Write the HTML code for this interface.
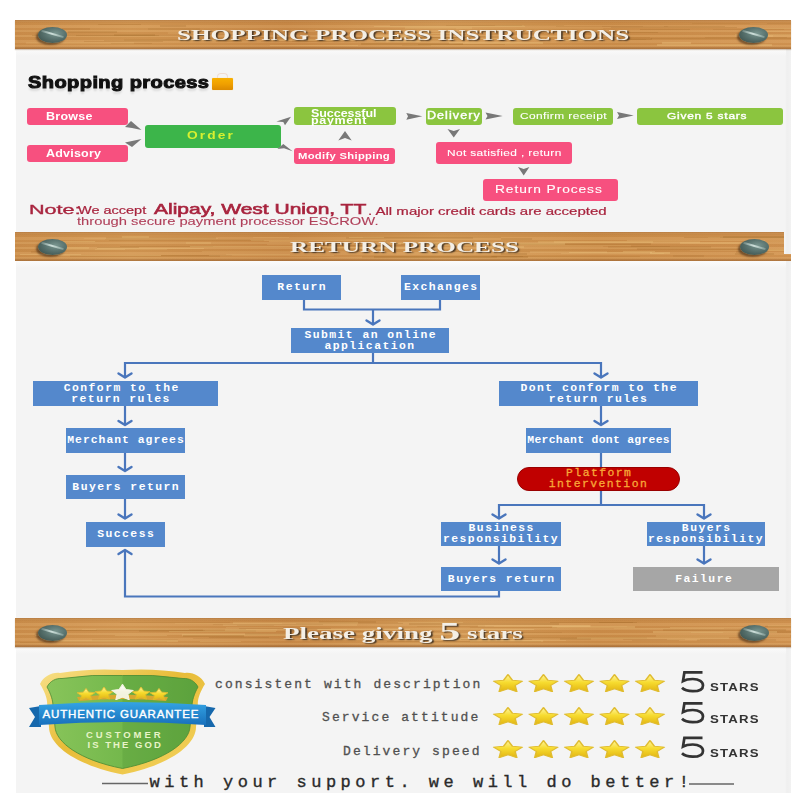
<!DOCTYPE html>
<html><head><meta charset="utf-8">
<style>
*{margin:0;padding:0;box-sizing:border-box}
html,body{width:800px;height:797px;overflow:hidden;background:#fff}
body{position:relative;font-family:"Liberation Sans",sans-serif}
.a{position:absolute}
.panel{left:16px;top:20px;width:775px;height:773px;background:linear-gradient(90deg,#f4f4f4 0,#f4f4f4 769px,#efefef 771px,#f2f2f2 775px)}
.strip{left:16px;width:770px;height:7px;background:linear-gradient(#fbfbfb,#f4f4f4)}
.wood{left:15px;width:776px;height:29px;box-shadow:0 1px 1px rgba(140,100,60,.35);
 background:
  linear-gradient(180deg,rgba(150,90,40,.45) 0,rgba(150,90,40,0) 3px,rgba(255,220,160,0) 26px,rgba(130,80,40,.45) 29px),
  repeating-linear-gradient(180deg,rgba(255,225,170,.12) 0 2px,rgba(160,100,40,.10) 2px 5px,rgba(255,220,170,.10) 5px 8px,rgba(170,105,45,.08) 8px 10px,rgba(255,230,180,.10) 10px 12px,rgba(160,95,40,.09) 12px 15px),
  linear-gradient(90deg,#cc8f4c 0%,#d39854 15%,#c98a48 35%,#d59c58 55%,#cc8e4a 75%,#d19452 100%);}
.grain{position:absolute;left:15px;width:776px;height:29px;overflow:hidden;pointer-events:none}
.grain i{position:absolute;display:block}
.screw{width:29px;height:16px;border-radius:50%;
 background:radial-gradient(ellipse at 60% 40%,#7a9690 0%,#5a7470 40%,#435a56 75%,#2e3e3c 100%);
 box-shadow:-2px 2px 2px rgba(50,30,15,.55)}
.screw:after{content:"";position:absolute;left:3px;top:6.5px;width:23px;height:1.6px;background:linear-gradient(90deg,rgba(200,225,215,.2),rgba(230,245,240,.8) 45%,rgba(200,225,215,.3));transform:rotate(16deg)}
.title{font-family:"Liberation Serif",serif;font-weight:bold;color:#f4efe6;font-size:15px;letter-spacing:0px;transform:scaleX(1.68);transform-origin:0 0;
 text-shadow:1px 1px 1px rgba(50,40,30,.85);white-space:nowrap}
.pb{border-radius:3px;color:#fff;font-size:10px;text-align:center;white-space:nowrap;display:flex;align-items:center;justify-content:center;line-height:9px}
.bx{border-radius:3px}
.pt{color:#fff;font-weight:bold;white-space:nowrap;transform:scaleX(1.25);transform-origin:0 0}
.bb{background:#5488cc;color:#fff;font-family:"Liberation Mono",monospace;font-weight:bold;font-size:11.4px;letter-spacing:1.45px;text-indent:1.45px;text-align:center;display:flex;align-items:center;justify-content:center;line-height:11px;white-space:nowrap}
.note{color:#a8243e;white-space:nowrap}
.mono{font-family:"Liberation Mono",monospace;white-space:nowrap}
</style></head><body>
<div class="a panel"></div>

<div class="a strip" style="top:49px"></div>
<div class="a strip" style="top:261px"></div>
<div class="a strip" style="top:647px"></div>
<!-- Section 1 -->
<div class="a wood" style="top:20px"></div>
<div class="grain" style="top:20px"><i style="left:245px;top:17.3px;width:41px;height:1px;background:rgba(150,95,30,0.11)"></i><i style="left:441px;top:7.7px;width:147px;height:1px;background:rgba(245,210,140,0.13)"></i><i style="left:69px;top:21.2px;width:79px;height:1px;background:rgba(150,95,30,0.18)"></i><i style="left:441px;top:15.9px;width:29px;height:1px;background:rgba(150,95,30,0.11)"></i><i style="left:649px;top:6.2px;width:61px;height:1px;background:rgba(150,95,30,0.17)"></i><i style="left:516px;top:15.6px;width:34px;height:1px;background:rgba(245,210,140,0.21)"></i><i style="left:47px;top:7.5px;width:28px;height:2px;background:rgba(150,95,30,0.16)"></i><i style="left:698px;top:8.5px;width:71px;height:1px;background:rgba(150,95,30,0.13)"></i><i style="left:434px;top:22.3px;width:94px;height:2px;background:rgba(245,210,140,0.28)"></i><i style="left:89px;top:19.7px;width:79px;height:1px;background:rgba(150,95,30,0.15)"></i><i style="left:727px;top:15.3px;width:31px;height:1.5px;background:rgba(245,210,140,0.18)"></i><i style="left:375px;top:4.5px;width:132px;height:1px;background:rgba(150,95,30,0.16)"></i><i style="left:502px;top:18.4px;width:28px;height:2px;background:rgba(245,210,140,0.18)"></i><i style="left:506px;top:13.2px;width:23px;height:1px;background:rgba(150,95,30,0.16)"></i><i style="left:165px;top:19.2px;width:60px;height:2px;background:rgba(245,210,140,0.26)"></i><i style="left:61px;top:15.1px;width:83px;height:1px;background:rgba(150,95,30,0.20)"></i><i style="left:210px;top:10.9px;width:78px;height:2px;background:rgba(150,95,30,0.12)"></i><i style="left:133px;top:8.1px;width:52px;height:2px;background:rgba(150,95,30,0.12)"></i><i style="left:213px;top:14.8px;width:40px;height:1.5px;background:rgba(150,95,30,0.18)"></i><i style="left:390px;top:17.9px;width:106px;height:1px;background:rgba(245,210,140,0.26)"></i><i style="left:720px;top:15.3px;width:56px;height:2px;background:rgba(245,210,140,0.14)"></i><i style="left:480px;top:4.5px;width:29px;height:1px;background:rgba(245,210,140,0.14)"></i><i style="left:454px;top:15.5px;width:34px;height:1px;background:rgba(150,95,30,0.17)"></i><i style="left:53px;top:11.3px;width:49px;height:1.5px;background:rgba(150,95,30,0.17)"></i><i style="left:358px;top:13.7px;width:36px;height:2px;background:rgba(245,210,140,0.17)"></i><i style="left:109px;top:19.3px;width:125px;height:2px;background:rgba(150,95,30,0.12)"></i><i style="left:17px;top:14.6px;width:153px;height:1px;background:rgba(150,95,30,0.21)"></i><i style="left:573px;top:17.1px;width:62px;height:1px;background:rgba(150,95,30,0.13)"></i><i style="left:277px;top:20.0px;width:43px;height:1.5px;background:rgba(150,95,30,0.17)"></i><i style="left:596px;top:7.3px;width:126px;height:1px;background:rgba(150,95,30,0.19)"></i><i style="left:171px;top:10.8px;width:92px;height:1px;background:rgba(150,95,30,0.19)"></i><i style="left:357px;top:16.3px;width:47px;height:1.5px;background:rgba(245,210,140,0.27)"></i><i style="left:747px;top:11.0px;width:29px;height:1px;background:rgba(245,210,140,0.20)"></i><i style="left:255px;top:24.7px;width:88px;height:1px;background:rgba(245,210,140,0.22)"></i><i style="left:605px;top:17.5px;width:32px;height:2px;background:rgba(150,95,30,0.19)"></i><i style="left:361px;top:20.4px;width:45px;height:1.5px;background:rgba(245,210,140,0.27)"></i><i style="left:546px;top:19.4px;width:85px;height:1px;background:rgba(150,95,30,0.12)"></i><i style="left:96px;top:22.9px;width:41px;height:1px;background:rgba(150,95,30,0.17)"></i><i style="left:359px;top:6.4px;width:151px;height:1px;background:rgba(245,210,140,0.25)"></i><i style="left:549px;top:19.5px;width:34px;height:1px;background:rgba(245,210,140,0.26)"></i><i style="left:625px;top:8.5px;width:50px;height:1.5px;background:rgba(150,95,30,0.19)"></i><i style="left:246px;top:21.4px;width:96px;height:1px;background:rgba(150,95,30,0.14)"></i><i style="left:346px;top:22.9px;width:102px;height:2px;background:rgba(150,95,30,0.21)"></i><i style="left:99px;top:14.2px;width:41px;height:2px;background:rgba(150,95,30,0.17)"></i><i style="left:587px;top:6.1px;width:41px;height:1px;background:rgba(150,95,30,0.14)"></i><i style="left:392px;top:20.3px;width:98px;height:1px;background:rgba(150,95,30,0.11)"></i><i style="left:145px;top:5.2px;width:26px;height:2px;background:rgba(150,95,30,0.19)"></i><i style="left:690px;top:16.5px;width:82px;height:1px;background:rgba(150,95,30,0.15)"></i><i style="left:403px;top:23.7px;width:87px;height:1.5px;background:rgba(150,95,30,0.21)"></i><i style="left:153px;top:12.2px;width:83px;height:2px;background:rgba(245,210,140,0.13)"></i><i style="left:182px;top:17.7px;width:30px;height:1px;background:rgba(150,95,30,0.12)"></i><i style="left:541px;top:6.1px;width:112px;height:1px;background:rgba(150,95,30,0.13)"></i><i style="left:720px;top:13.7px;width:56px;height:1px;background:rgba(245,210,140,0.19)"></i><i style="left:390px;top:7.3px;width:67px;height:1.5px;background:rgba(245,210,140,0.18)"></i><i style="left:256px;top:18.5px;width:84px;height:2px;background:rgba(245,210,140,0.22)"></i><i style="left:387px;top:24.7px;width:29px;height:1px;background:rgba(150,95,30,0.11)"></i><i style="left:201px;top:20.1px;width:26px;height:1.5px;background:rgba(150,95,30,0.20)"></i><i style="left:642px;top:23.8px;width:115px;height:2px;background:rgba(245,210,140,0.27)"></i><i style="left:431px;top:5.0px;width:118px;height:1px;background:rgba(150,95,30,0.12)"></i><i style="left:677px;top:3.4px;width:58px;height:1px;background:rgba(150,95,30,0.11)"></i><i style="left:647px;top:22.0px;width:29px;height:2px;background:rgba(245,210,140,0.28)"></i><i style="left:316px;top:16.7px;width:148px;height:1px;background:rgba(150,95,30,0.13)"></i><i style="left:83px;top:4.1px;width:43px;height:1px;background:rgba(150,95,30,0.18)"></i><i style="left:402px;top:12.8px;width:49px;height:1px;background:rgba(245,210,140,0.25)"></i><i style="left:752px;top:3.4px;width:24px;height:1px;background:rgba(150,95,30,0.13)"></i><i style="left:338px;top:17.3px;width:112px;height:2px;background:rgba(150,95,30,0.21)"></i><i style="left:734px;top:7.7px;width:42px;height:1px;background:rgba(245,210,140,0.25)"></i><i style="left:534px;top:11.9px;width:109px;height:1.5px;background:rgba(150,95,30,0.20)"></i><i style="left:11px;top:22.4px;width:108px;height:2px;background:rgba(245,210,140,0.13)"></i><i style="left:636px;top:17.8px;width:140px;height:1.5px;background:rgba(150,95,30,0.18)"></i></div>
<div class="a screw" style="left:37.5px;top:26.5px"></div>
<div class="a screw" style="left:739px;top:26.5px"></div>
<div class="a title" style="left:177px;top:27px">SHOPPING PROCESS INSTRUCTIONS</div>

<div class="a" style="left:28px;top:73px;font-size:16.7px;font-weight:bold;color:#111;-webkit-text-stroke:1px #111;letter-spacing:0.35px;white-space:nowrap;transform:scaleX(1.2);transform-origin:0 0;text-shadow:0 3px 2px rgba(0,0,0,.12)">Shopping process</div>
<div class="a" style="left:211.5px;top:77.5px;width:21.5px;height:12.3px;background:linear-gradient(#f8b000,#f0a000 50%,#dc8a00);border-radius:1px;box-shadow:0 0 1px #f8d070"></div>
<div class="a" style="left:217px;top:73px;width:11px;height:5px;border:1px solid #f0dcd0;border-bottom:none;border-radius:4px 4px 0 0"></div>

<div class="a bx" style="left:27px;top:108px;width:101px;height:17px;background:#f7507f"></div>
<div class="a bx" style="left:27px;top:145px;width:101px;height:17px;background:#f7507f"></div>
<div class="a bx" style="left:145px;top:124.5px;width:136px;height:23px;background:#3cb54a"></div>
<div class="a bx" style="left:294px;top:107px;width:102px;height:18px;background:#8bc53f"></div>
<div class="a bx" style="left:294px;top:148px;width:101px;height:16px;background:#f7507f"></div>
<div class="a bx" style="left:425.5px;top:107.5px;width:56px;height:17.5px;background:#8bc53f"></div>
<div class="a bx" style="left:512.5px;top:107.5px;width:100.5px;height:17.5px;background:#8bc53f"></div>
<div class="a bx" style="left:637px;top:107.5px;width:145.5px;height:17.5px;background:#8bc53f"></div>
<div class="a bx" style="left:436px;top:142px;width:136px;height:22px;background:#f7507f"></div>
<div class="a bx" style="left:482.5px;top:178.5px;width:135px;height:22px;background:#f7507f"></div>
<div class="a pt" id="p0" style="left:45.5px;top:112.22px;font-size:10px;line-height:10px;letter-spacing:0.208px">Browse</div>
<div class="a pt" id="p1" style="left:46.00px;top:148.66px;font-size:10px;line-height:10px;letter-spacing:0.173px">Advisory</div>
<div class="a pt" id="p2" style="left:187.00px;top:130.26px;font-size:11px;line-height:11px;letter-spacing:1.680px;color:#d8f030">Order</div>
<div class="a pt" id="p3" style="left:311.00px;top:108.9px;font-size:10px;line-height:10px;letter-spacing:-0.043px">Successful</div>
<div class="a pt" id="p4" style="left:311.00px;top:116px;font-size:10px;line-height:10px;letter-spacing:0.533px">payment</div>
<div class="a pt" id="p5" style="left:297.60px;top:151.82px;font-size:9px;line-height:9px;letter-spacing:0.241px">Modify Shipping</div>
<div class="a pt" id="p6" style="left:427.25px;top:110.92px;font-size:10px;line-height:10px;letter-spacing:0.858px;font-weight:normal;-webkit-text-stroke:0.4px #fff">Delivery</div>
<div class="a pt" id="p7" style="left:519.75px;top:111.49px;font-size:9.5px;line-height:9.5px;letter-spacing:0.343px;font-weight:normal;-webkit-text-stroke:0.1px #fff">Confirm receipt</div>
<div class="a pt" id="p8" style="left:667.00px;top:111.49px;font-size:9.5px;line-height:9.5px;letter-spacing:0.635px;font-weight:normal;-webkit-text-stroke:0.4px #fff">Given 5 stars</div>
<div class="a pt" id="p9" style="left:446.50px;top:147.91px;font-size:9.5px;line-height:9.5px;letter-spacing:0.304px;font-weight:normal;-webkit-text-stroke:0.1px #fff">Not satisfied , return</div>
<div class="a pt" id="p10" style="left:494.75px;top:183.76px;font-size:11px;line-height:11px;letter-spacing:0.739px;font-weight:normal;-webkit-text-stroke:0.1px #fff">Return Process</div>

<svg class="a" style="left:0;top:0" width="800" height="240">
 <g fill="#787878">
  <polygon points="125,127 131,121 141.5,130 132,128"/>
  <polygon points="125,142.5 132,147 141.5,139 132,141"/>
  <polygon points="276.4,121.5 291,116.7 285,125.3 283.3,122"/>
  <polygon points="277.4,149 283.3,144 292.6,151.2 284,148.3"/>
  <polygon points="345,131 351.75,140.5 345,138 338.25,140.5"/>
  <polygon points="406.3,113 422.3,116.3 406.3,119.8 408,116.3"/>
  <polygon points="485.5,112.5 502.7,116 485.5,119.5 487.5,116"/>
  <polygon points="617,112 633.7,115.5 617,119 619,115.5"/>
  <polygon points="447.5,129 453.75,131 460,129 453.75,137.5"/>
  <polygon points="518,167 523.7,169 529.4,167 523.7,175.5"/>
 </g>
</svg>

<div class="a note" id="n0" style="left:29px;top:202.86px;font-size:13.5px;line-height:13.5px;transform:scaleX(1.6);transform-origin:0 0;-webkit-text-stroke:0.35px #a8243e">Note:</div>
<div class="a note" id="n1" style="left:78.4px;top:205.34px;font-size:10.5px;line-height:10.5px;transform:scaleX(1.38);transform-origin:0 0;-webkit-text-stroke:0.2px #a8243e">We accept</div>
<div class="a note" id="n2" style="left:154px;top:201.7px;font-size:14.5px;line-height:14.5px;transform:scaleX(1.447);transform-origin:0 0;-webkit-text-stroke:0.6px #a8243e">Alipay, West Union, TT</div>
<div class="a note" id="n3" style="left:368px;top:205.84px;font-size:10.5px;line-height:10.5px;transform:scaleX(1.43);transform-origin:0 0;-webkit-text-stroke:0.2px #a8243e">. All major credit cards are accepted</div>
<div class="a note" id="n4" style="left:76.6px;top:216.26px;font-size:11px;line-height:11px;transform:scaleX(1.34);transform-origin:0 0;color:#b0405a;-webkit-text-stroke:0.1px #b0405a">through secure payment processor ESCROW.</div>

<!-- Section 2 -->
<div class="a wood" style="top:232px;clip-path:polygon(0 0,769px 0,769px 22px,776px 22px,776px 29px,0 29px)"></div>
<div class="grain" style="top:232px;clip-path:polygon(0 0,769px 0,769px 22px,776px 22px,776px 29px,0 29px)"><i style="left:34px;top:8.9px;width:46px;height:1px;background:rgba(245,210,140,0.27)"></i><i style="left:735px;top:8.4px;width:41px;height:1.5px;background:rgba(245,210,140,0.15)"></i><i style="left:254px;top:9.1px;width:32px;height:1px;background:rgba(245,210,140,0.24)"></i><i style="left:69px;top:6.2px;width:134px;height:1px;background:rgba(245,210,140,0.17)"></i><i style="left:476px;top:24.1px;width:32px;height:1px;background:rgba(150,95,30,0.19)"></i><i style="left:665px;top:10.2px;width:75px;height:2px;background:rgba(245,210,140,0.24)"></i><i style="left:486px;top:21.4px;width:26px;height:2px;background:rgba(150,95,30,0.20)"></i><i style="left:105px;top:14.1px;width:93px;height:1px;background:rgba(150,95,30,0.17)"></i><i style="left:675px;top:18.3px;width:101px;height:1px;background:rgba(245,210,140,0.13)"></i><i style="left:482px;top:11.3px;width:154px;height:2px;background:rgba(150,95,30,0.18)"></i><i style="left:473px;top:13.8px;width:115px;height:1px;background:rgba(245,210,140,0.13)"></i><i style="left:705px;top:5.0px;width:71px;height:1px;background:rgba(150,95,30,0.16)"></i><i style="left:612px;top:8.2px;width:138px;height:1px;background:rgba(245,210,140,0.22)"></i><i style="left:348px;top:4.7px;width:138px;height:1.5px;background:rgba(150,95,30,0.17)"></i><i style="left:486px;top:6.2px;width:31px;height:1.5px;background:rgba(150,95,30,0.18)"></i><i style="left:470px;top:13.6px;width:39px;height:2px;background:rgba(245,210,140,0.23)"></i><i style="left:523px;top:9.4px;width:115px;height:1.5px;background:rgba(245,210,140,0.19)"></i><i style="left:90px;top:7.4px;width:145px;height:1px;background:rgba(150,95,30,0.10)"></i><i style="left:347px;top:24.3px;width:135px;height:2px;background:rgba(150,95,30,0.15)"></i><i style="left:693px;top:4.6px;width:83px;height:1px;background:rgba(245,210,140,0.20)"></i><i style="left:720px;top:21.0px;width:39px;height:1.5px;background:rgba(150,95,30,0.18)"></i><i style="left:175px;top:13.7px;width:146px;height:1px;background:rgba(245,210,140,0.27)"></i><i style="left:515px;top:19.0px;width:77px;height:2px;background:rgba(245,210,140,0.17)"></i><i style="left:635px;top:19.5px;width:20px;height:2px;background:rgba(245,210,140,0.27)"></i><i style="left:539px;top:9.4px;width:146px;height:1.5px;background:rgba(245,210,140,0.18)"></i><i style="left:658px;top:23.4px;width:31px;height:1.5px;background:rgba(150,95,30,0.13)"></i><i style="left:39px;top:17.0px;width:113px;height:1px;background:rgba(245,210,140,0.16)"></i><i style="left:386px;top:11.2px;width:47px;height:2px;background:rgba(150,95,30,0.20)"></i><i style="left:477px;top:23.7px;width:148px;height:1px;background:rgba(150,95,30,0.11)"></i><i style="left:554px;top:19.6px;width:83px;height:1.5px;background:rgba(245,210,140,0.27)"></i><i style="left:416px;top:12.1px;width:44px;height:1.5px;background:rgba(245,210,140,0.24)"></i><i style="left:738px;top:17.4px;width:38px;height:1.5px;background:rgba(245,210,140,0.23)"></i><i style="left:91px;top:4.7px;width:110px;height:2px;background:rgba(150,95,30,0.15)"></i><i style="left:252px;top:12.4px;width:126px;height:1px;background:rgba(245,210,140,0.15)"></i><i style="left:420px;top:11.1px;width:65px;height:1px;background:rgba(150,95,30,0.19)"></i><i style="left:312px;top:14.5px;width:78px;height:2px;background:rgba(245,210,140,0.24)"></i><i style="left:377px;top:10.9px;width:100px;height:1px;background:rgba(245,210,140,0.26)"></i><i style="left:291px;top:12.5px;width:110px;height:1.5px;background:rgba(150,95,30,0.20)"></i><i style="left:16px;top:18.6px;width:25px;height:2px;background:rgba(150,95,30,0.16)"></i><i style="left:55px;top:23.4px;width:150px;height:2px;background:rgba(150,95,30,0.13)"></i><i style="left:82px;top:14.5px;width:42px;height:1px;background:rgba(150,95,30,0.19)"></i><i style="left:489px;top:13.1px;width:127px;height:1px;background:rgba(245,210,140,0.14)"></i><i style="left:430px;top:18.7px;width:25px;height:1px;background:rgba(150,95,30,0.16)"></i><i style="left:331px;top:5.2px;width:127px;height:1.5px;background:rgba(150,95,30,0.17)"></i><i style="left:293px;top:16.2px;width:51px;height:1px;background:rgba(150,95,30,0.22)"></i><i style="left:211px;top:21.5px;width:64px;height:1px;background:rgba(245,210,140,0.16)"></i><i style="left:187px;top:18.5px;width:154px;height:1.5px;background:rgba(245,210,140,0.15)"></i><i style="left:669px;top:4.8px;width:107px;height:1px;background:rgba(150,95,30,0.21)"></i><i style="left:171px;top:10.4px;width:25px;height:2px;background:rgba(245,210,140,0.18)"></i><i style="left:5px;top:21.6px;width:61px;height:1px;background:rgba(245,210,140,0.28)"></i><i style="left:236px;top:8.1px;width:135px;height:1px;background:rgba(245,210,140,0.26)"></i><i style="left:82px;top:16.4px;width:107px;height:1px;background:rgba(245,210,140,0.27)"></i><i style="left:43px;top:23.3px;width:103px;height:1px;background:rgba(245,210,140,0.28)"></i><i style="left:107px;top:4.3px;width:27px;height:2px;background:rgba(245,210,140,0.23)"></i><i style="left:238px;top:4.7px;width:36px;height:1px;background:rgba(245,210,140,0.15)"></i><i style="left:708px;top:3.7px;width:68px;height:2px;background:rgba(150,95,30,0.22)"></i><i style="left:334px;top:4.7px;width:35px;height:1px;background:rgba(245,210,140,0.27)"></i><i style="left:94px;top:7.6px;width:155px;height:1.5px;background:rgba(150,95,30,0.14)"></i><i style="left:608px;top:18.5px;width:32px;height:1px;background:rgba(245,210,140,0.27)"></i><i style="left:146px;top:22.7px;width:71px;height:1px;background:rgba(150,95,30,0.13)"></i><i style="left:473px;top:11.3px;width:77px;height:2px;background:rgba(245,210,140,0.27)"></i><i style="left:194px;top:22.8px;width:125px;height:1.5px;background:rgba(245,210,140,0.17)"></i><i style="left:721px;top:19.4px;width:26px;height:1.5px;background:rgba(150,95,30,0.14)"></i><i style="left:546px;top:20.7px;width:103px;height:1px;background:rgba(245,210,140,0.16)"></i><i style="left:359px;top:24.0px;width:154px;height:2px;background:rgba(150,95,30,0.21)"></i><i style="left:616px;top:13.9px;width:39px;height:1px;background:rgba(150,95,30,0.19)"></i><i style="left:622px;top:16.4px;width:128px;height:1.5px;background:rgba(150,95,30,0.16)"></i><i style="left:593px;top:14.3px;width:103px;height:2px;background:rgba(150,95,30,0.13)"></i><i style="left:49px;top:15.2px;width:25px;height:1.5px;background:rgba(245,210,140,0.19)"></i><i style="left:80px;top:16.7px;width:30px;height:1px;background:rgba(245,210,140,0.20)"></i></div>
<div class="a screw" style="left:37.5px;top:238.5px"></div>
<div class="a screw" style="left:739.5px;top:238.5px"></div>
<div class="a title" style="left:290px;top:239px">RETURN PROCESS</div>

<svg class="a" style="left:0;top:260px" width="800" height="350">
 <g stroke="#4a76bc" stroke-width="2.2" fill="none">
  <polyline points="304,39.5 304,49.5 440,49.5 440,39.5"/>
  <line x1="373" y1="49.5" x2="373" y2="64.5"/>
  <line x1="373" y1="92.5" x2="373" y2="103"/>
  <polyline points="125,117.5 125,103 601,103 601,117.5"/>
  <line x1="125" y1="145.5" x2="125" y2="165"/>
  <line x1="125" y1="193" x2="125" y2="211"/>
  <line x1="125" y1="239" x2="125" y2="258.5"/>
  <line x1="601" y1="145.5" x2="601" y2="165"/>
  <line x1="601" y1="193" x2="601" y2="207"/>
  <polyline points="601,231 601,245 499,245 499,258.5"/>
  <polyline points="601,245 704,245 704,258.5"/>
  <line x1="499" y1="286" x2="499" y2="303.5"/>
  <line x1="704" y1="286" x2="704" y2="303.5"/>
  <polyline points="499,331 499,336.5 125,336.5 125,290"/>
 </g>
 <g stroke="#4a76bc" stroke-width="2.4" fill="none" stroke-linecap="round" stroke-linejoin="round">
  <polyline points="366.5,60.5 373,64.5 379.5,60.5"/>
  <polyline points="118.5,113.5 125,117.5 131.5,113.5"/>
  <polyline points="594.5,113.5 601,117.5 607.5,113.5"/>
  <polyline points="118.5,161 125,165 131.5,161"/>
  <polyline points="118.5,207 125,211 131.5,207"/>
  <polyline points="118.5,254.5 125,258.5 131.5,254.5"/>
  <polyline points="594.5,161 601,165 607.5,161"/>
  <polyline points="492.5,254.5 499,258.5 505.5,254.5"/>
  <polyline points="697.5,254.5 704,258.5 710.5,254.5"/>
  <polyline points="492.5,299.5 499,303.5 505.5,299.5"/>
  <polyline points="697.5,299.5 704,303.5 710.5,299.5"/>
  <polyline points="118.5,294 125,290 131.5,294"/>
 </g>
</svg>

<div class="a bb" style="left:262px;top:275px;width:79px;height:25px">Return</div>
<div class="a bb" style="left:401px;top:275px;width:79px;height:25px">Exchanges</div>
<div class="a bb" style="left:291px;top:328px;width:158px;height:25px">Submit an online<br>application</div>
<div class="a bb" style="left:33px;top:381px;width:185px;height:25px;padding-right:9px">Conform to the<br>return rules</div>
<div class="a bb" style="left:66px;top:428px;width:119px;height:25px;letter-spacing:1px;text-indent:1px">Merchant agrees</div>
<div class="a bb" style="left:66px;top:475px;width:119px;height:24px">Buyers return</div>
<div class="a bb" style="left:86px;top:522px;width:79px;height:25px">Success</div>
<div class="a bb" style="left:499px;top:381px;width:199px;height:25px">Dont conform to the<br>return rules</div>
<div class="a bb" style="left:526px;top:428px;width:145px;height:25px;letter-spacing:0.3px;text-indent:0.3px">Merchant dont agrees</div>
<div class="a bb" style="left:517px;top:467px;width:163px;height:24px;background:#c00000;border-radius:12px;color:#f8a838;border:1px solid #900;font-weight:normal;-webkit-text-stroke:0.3px #f8a838">Platform<br>intervention</div>
<div class="a bb" style="left:441px;top:522px;width:120px;height:24px">Business<br>responsibility</div>
<div class="a bb" style="left:647px;top:522px;width:118px;height:24px">Buyers<br>responsibility</div>
<div class="a bb" style="left:441px;top:567px;width:120px;height:24px">Buyers return</div>
<div class="a bb" style="left:633px;top:567px;width:146px;height:24px;background:#a6a6a6;padding-right:5px">Failure</div>

<!-- Section 3 -->
<div class="a wood" style="top:618px"></div>
<div class="grain" style="top:618px"><i style="left:537px;top:8.2px;width:83px;height:2px;background:rgba(245,210,140,0.26)"></i><i style="left:178px;top:20.0px;width:95px;height:1px;background:rgba(150,95,30,0.14)"></i><i style="left:211px;top:8.6px;width:57px;height:1.5px;background:rgba(245,210,140,0.16)"></i><i style="left:185px;top:22.5px;width:41px;height:1px;background:rgba(245,210,140,0.18)"></i><i style="left:750px;top:8.1px;width:26px;height:1px;background:rgba(150,95,30,0.22)"></i><i style="left:77px;top:21.0px;width:86px;height:2px;background:rgba(150,95,30,0.10)"></i><i style="left:222px;top:7.2px;width:37px;height:1px;background:rgba(150,95,30,0.14)"></i><i style="left:655px;top:8.7px;width:83px;height:1px;background:rgba(245,210,140,0.22)"></i><i style="left:469px;top:11.1px;width:50px;height:1px;background:rgba(245,210,140,0.28)"></i><i style="left:29px;top:23.1px;width:123px;height:1px;background:rgba(150,95,30,0.15)"></i><i style="left:281px;top:4.7px;width:107px;height:1px;background:rgba(150,95,30,0.17)"></i><i style="left:48px;top:11.7px;width:34px;height:1px;background:rgba(150,95,30,0.11)"></i><i style="left:124px;top:12.0px;width:117px;height:1.5px;background:rgba(150,95,30,0.15)"></i><i style="left:39px;top:22.4px;width:124px;height:2px;background:rgba(245,210,140,0.26)"></i><i style="left:753px;top:7.3px;width:23px;height:2px;background:rgba(245,210,140,0.12)"></i><i style="left:682px;top:21.0px;width:79px;height:2px;background:rgba(150,95,30,0.14)"></i><i style="left:584px;top:4.1px;width:38px;height:1px;background:rgba(150,95,30,0.21)"></i><i style="left:67px;top:11.2px;width:107px;height:1px;background:rgba(245,210,140,0.17)"></i><i style="left:394px;top:5.4px;width:150px;height:2px;background:rgba(150,95,30,0.20)"></i><i style="left:608px;top:21.4px;width:62px;height:1px;background:rgba(150,95,30,0.16)"></i><i style="left:40px;top:11.5px;width:150px;height:1px;background:rgba(150,95,30,0.20)"></i><i style="left:470px;top:7.3px;width:106px;height:2px;background:rgba(245,210,140,0.15)"></i><i style="left:302px;top:11.4px;width:93px;height:1px;background:rgba(245,210,140,0.28)"></i><i style="left:617px;top:22.4px;width:47px;height:1px;background:rgba(150,95,30,0.14)"></i><i style="left:295px;top:21.7px;width:84px;height:1.5px;background:rgba(150,95,30,0.14)"></i><i style="left:188px;top:11.1px;width:74px;height:2px;background:rgba(245,210,140,0.12)"></i><i style="left:746px;top:12.8px;width:30px;height:2px;background:rgba(150,95,30,0.20)"></i><i style="left:303px;top:10.9px;width:29px;height:1.5px;background:rgba(245,210,140,0.19)"></i><i style="left:386px;top:17.0px;width:26px;height:1px;background:rgba(150,95,30,0.14)"></i><i style="left:545px;top:19.5px;width:31px;height:2px;background:rgba(150,95,30,0.19)"></i><i style="left:20px;top:16.5px;width:29px;height:1px;background:rgba(245,210,140,0.28)"></i><i style="left:372px;top:23.2px;width:154px;height:1px;background:rgba(150,95,30,0.19)"></i><i style="left:167px;top:16.4px;width:137px;height:1.5px;background:rgba(245,210,140,0.26)"></i><i style="left:208px;top:6.2px;width:134px;height:2px;background:rgba(245,210,140,0.16)"></i><i style="left:383px;top:3.8px;width:65px;height:1px;background:rgba(245,210,140,0.22)"></i><i style="left:210px;top:11.3px;width:66px;height:1.5px;background:rgba(245,210,140,0.20)"></i><i style="left:481px;top:22.2px;width:70px;height:1px;background:rgba(245,210,140,0.21)"></i><i style="left:648px;top:11.2px;width:123px;height:2px;background:rgba(150,95,30,0.17)"></i><i style="left:272px;top:12.7px;width:127px;height:1px;background:rgba(150,95,30,0.21)"></i><i style="left:224px;top:9.8px;width:92px;height:1.5px;background:rgba(150,95,30,0.19)"></i><i style="left:168px;top:16.8px;width:61px;height:2px;background:rgba(150,95,30,0.21)"></i><i style="left:100px;top:17.4px;width:52px;height:1px;background:rgba(245,210,140,0.21)"></i><i style="left:230px;top:14.8px;width:93px;height:2px;background:rgba(150,95,30,0.17)"></i><i style="left:154px;top:13.4px;width:107px;height:1px;background:rgba(245,210,140,0.25)"></i><i style="left:535px;top:4.4px;width:83px;height:1px;background:rgba(150,95,30,0.19)"></i><i style="left:304px;top:3.3px;width:57px;height:1.5px;background:rgba(150,95,30,0.17)"></i><i style="left:455px;top:13.8px;width:92px;height:1px;background:rgba(150,95,30,0.11)"></i><i style="left:402px;top:8.2px;width:77px;height:1px;background:rgba(150,95,30,0.11)"></i><i style="left:463px;top:7.3px;width:112px;height:2px;background:rgba(245,210,140,0.22)"></i><i style="left:383px;top:20.9px;width:110px;height:1px;background:rgba(150,95,30,0.11)"></i><i style="left:473px;top:18.9px;width:159px;height:2px;background:rgba(150,95,30,0.10)"></i><i style="left:638px;top:13.2px;width:124px;height:2px;background:rgba(245,210,140,0.28)"></i><i style="left:198px;top:5.7px;width:110px;height:1.5px;background:rgba(150,95,30,0.13)"></i><i style="left:419px;top:20.3px;width:81px;height:1.5px;background:rgba(245,210,140,0.27)"></i><i style="left:676px;top:14.2px;width:32px;height:1px;background:rgba(245,210,140,0.16)"></i><i style="left:562px;top:19.4px;width:152px;height:1.5px;background:rgba(245,210,140,0.18)"></i><i style="left:455px;top:21.7px;width:73px;height:2px;background:rgba(245,210,140,0.20)"></i><i style="left:5px;top:24.0px;width:24px;height:1px;background:rgba(150,95,30,0.14)"></i><i style="left:160px;top:4.7px;width:107px;height:1px;background:rgba(245,210,140,0.12)"></i><i style="left:81px;top:10.6px;width:150px;height:1px;background:rgba(150,95,30,0.10)"></i><i style="left:105px;top:3.9px;width:110px;height:1px;background:rgba(150,95,30,0.11)"></i><i style="left:446px;top:21.0px;width:71px;height:1px;background:rgba(150,95,30,0.19)"></i><i style="left:538px;top:8.4px;width:74px;height:1px;background:rgba(245,210,140,0.13)"></i><i style="left:641px;top:17.0px;width:134px;height:1.5px;background:rgba(245,210,140,0.14)"></i><i style="left:599px;top:9.5px;width:110px;height:1.5px;background:rgba(245,210,140,0.12)"></i><i style="left:194px;top:18.7px;width:60px;height:1.5px;background:rgba(150,95,30,0.19)"></i><i style="left:455px;top:9.3px;width:87px;height:1px;background:rgba(150,95,30,0.10)"></i><i style="left:392px;top:13.3px;width:34px;height:1px;background:rgba(150,95,30,0.13)"></i><i style="left:652px;top:21.0px;width:33px;height:1px;background:rgba(245,210,140,0.20)"></i><i style="left:218px;top:4.2px;width:125px;height:1.5px;background:rgba(245,210,140,0.20)"></i></div>
<div class="a screw" style="left:37.5px;top:624.5px"></div>
<div class="a screw" style="left:739.5px;top:624.5px"></div>
<div class="a title" style="left:282.5px;top:617px;font-weight:bold;font-size:16px;letter-spacing:0px;transform:scaleX(1.69)">Please giving <span style="font-size:25px;position:relative;top:1px">5</span> stars</div>


<svg class="a" style="left:0;top:0" width="800" height="797">
 <defs>
  <linearGradient id="sg" x1="0" y1="0" x2="0" y2="1">
   <stop offset="0" stop-color="#fff6a0"/><stop offset=".45" stop-color="#f7dc30"/><stop offset="1" stop-color="#e2b410"/>
  </linearGradient>
  <symbol id="star" viewBox="0 0 1 0.95" preserveAspectRatio="none">
   <polygon points="0.5,0.03 0.638,0.328 0.947,0.375 0.723,0.607 0.776,0.935 0.5,0.78 0.224,0.935 0.277,0.607 0.053,0.375 0.362,0.328" fill="url(#sg)" stroke="#e0bc30" stroke-width="0.05" stroke-linejoin="round"/>
  </symbol>
  <linearGradient id="gold" x1="0" y1="0" x2="1" y2="1">
   <stop offset="0" stop-color="#f8e088"/><stop offset=".45" stop-color="#e8bc38"/><stop offset="1" stop-color="#f4d460"/>
  </linearGradient>
  <linearGradient id="grn" x1="0" y1="0" x2="1" y2="0">
   <stop offset="0" stop-color="#88c45a"/><stop offset=".5" stop-color="#74b84c"/><stop offset="1" stop-color="#62a840"/>
  </linearGradient>
  <linearGradient id="rib" x1="0" y1="0" x2="0" y2="1">
   <stop offset="0" stop-color="#34a4e4"/><stop offset="1" stop-color="#1870bc"/>
  </linearGradient>
 </defs>
 <path d="M40,684 C44,676 52,672 60,673 Q90,668 122.5,670 Q155,668 185,673 C193,672 201,676 205,684 C200,692 197,700 198,706 L196,727 C196,745 170,765 122.5,774.5 C75,765 49,745 49,727 L47,706 C48,700 45,692 40,684 Z" fill="url(#gold)"/>
 <path d="M47,687 C50,681 56,678 62,678.5 Q92,674 122.5,675.5 Q153,674 183,678.5 C189,678 195,681 198,687 C194,694 192,701 192,706 L190,727 C189,742 166,760 122.5,768.5 C79,760 56,742 55,727 L53,706 C53,701 51,694 47,687 Z" fill="url(#grn)" stroke="#4a8a34" stroke-width="0.8"/>
 <path d="M122.5,675.5 Q153,674 183,678.5 C189,678 195,681 198,687 C194,694 192,701 192,706 L190,727 C189,742 166,760 122.5,768.5 Z" fill="#4e9434" opacity=".3"/>
 <g>
  <path d="M77,697 Q122,692 168,697 L166,701 Q122,697 79,701 Z" fill="#d8a830"/>
  <use href="#star" x="76" y="688" width="20" height="12"/>
  <use href="#star" x="94" y="686.5" width="20" height="13"/>
  <use href="#star" x="131" y="686.5" width="20" height="13"/>
  <use href="#star" x="149" y="688" width="20" height="12"/>
  <use href="#star" x="110.5" y="684" width="24" height="16" style="filter:brightness(1.7) saturate(0.1)"/>
 </g>
 <path d="M29,708 L41,706 L41,727 L29,727 L35,717 Z" fill="#1668ac"/>
 <path d="M215.5,708 L204,706 L204,727 L215.5,727 L209.5,717 Z" fill="#1668ac"/>
 <path d="M39,705 Q122,699 206,705 L206,725 Q122,719 39,725 Z" fill="url(#rib)"/>
 <g transform="translate(0,0)">
  <use href="#star" x="492" y="674" width="32" height="18"/>
  <use href="#star" x="527.5" y="674" width="32" height="18"/>
  <use href="#star" x="563" y="674" width="32" height="18"/>
  <use href="#star" x="598.5" y="674" width="32" height="18"/>
  <use href="#star" x="634" y="674" width="32" height="18"/>
 </g>
 <g>
  <use href="#star" x="492" y="707" width="32" height="18"/>
  <use href="#star" x="527.5" y="707" width="32" height="18"/>
  <use href="#star" x="563" y="707" width="32" height="18"/>
  <use href="#star" x="598.5" y="707" width="32" height="18"/>
  <use href="#star" x="634" y="707" width="32" height="18"/>
 </g>
 <g>
  <use href="#star" x="492" y="740" width="32" height="18"/>
  <use href="#star" x="527.5" y="740" width="32" height="18"/>
  <use href="#star" x="563" y="740" width="32" height="18"/>
  <use href="#star" x="598.5" y="740" width="32" height="18"/>
  <use href="#star" x="634" y="740" width="32" height="18"/>
 </g>
 <g fill="none" stroke="#333" stroke-width="2.7">
  <path id="five" d="M21.5,1.3 H3.4 L2,10 C4.5,8.6 8,8 11.8,8 C18.2,8 22,10.8 22,14.4 C22,18.2 17.8,20.2 11.8,20.2 C7,20.2 3.2,19 1,16.8" transform="translate(681,671)"/>
  <path d="M21.5,1.3 H3.4 L2,10 C4.5,8.6 8,8 11.8,8 C18.2,8 22,10.8 22,14.4 C22,18.2 17.8,20.2 11.8,20.2 C7,20.2 3.2,19 1,16.8" transform="translate(681,702)"/>
  <path d="M21.5,1.3 H3.4 L2,10 C4.5,8.6 8,8 11.8,8 C18.2,8 22,10.8 22,14.4 C22,18.2 17.8,20.2 11.8,20.2 C7,20.2 3.2,19 1,16.8" transform="translate(681,736.5)"/>
 </g>
 <g stroke="#666" stroke-width="1.3">
  <line x1="102" y1="783.5" x2="148" y2="783.5"/>
  <line x1="689" y1="784" x2="734" y2="784"/>
 </g>
</svg>
<div class="a" id="rb" style="left:42.5px;top:708.5px;font-size:11.5px;line-height:11.5px;color:#fff;white-space:nowrap;letter-spacing:0.85px;-webkit-text-stroke:0.4px #fff">AUTHENTIC GUARANTEE</div>
<div class="a" id="cu" style="left:86px;top:729.5px;font-size:9.5px;line-height:9.5px;font-weight:bold;color:#e8f4c8;letter-spacing:2.9px;white-space:nowrap">CUSTOMER</div>
<div class="a" id="go" style="left:87.5px;top:739.5px;font-size:9.5px;line-height:9.5px;font-weight:bold;color:#e8f4c8;letter-spacing:2.05px;white-space:nowrap">IS THE GOD</div>

<div class="a mono" style="left:215px;top:676.5px;font-size:13px;color:#505050;letter-spacing:2.1px;-webkit-text-stroke:0.3px #505050">consistent with description</div>
<div class="a mono" style="left:322px;top:710.3px;font-size:13px;color:#505050;letter-spacing:2.1px;-webkit-text-stroke:0.3px #505050">Service attitude</div>
<div class="a mono" style="left:343px;top:744px;font-size:13px;color:#505050;letter-spacing:2.1px;-webkit-text-stroke:0.3px #505050">Delivery speed</div>
<div class="a" style="left:710px;top:681px;font-size:11px;font-weight:bold;color:#333;letter-spacing:1px;transform:scaleX(1.2);transform-origin:0 0">STARS</div>
<div class="a" style="left:710px;top:712.5px;font-size:11px;font-weight:bold;color:#333;letter-spacing:1px;transform:scaleX(1.2);transform-origin:0 0">STARS</div>
<div class="a" style="left:710px;top:746.5px;font-size:11px;font-weight:bold;color:#333;letter-spacing:1px;transform:scaleX(1.2);transform-origin:0 0">STARS</div>
<div class="a mono" style="left:149.5px;top:772.5px;font-size:17px;color:#2a2a2a;letter-spacing:4.5px;-webkit-text-stroke:0.35px #2a2a2a">with your support. we will do better!</div>

</body></html>
